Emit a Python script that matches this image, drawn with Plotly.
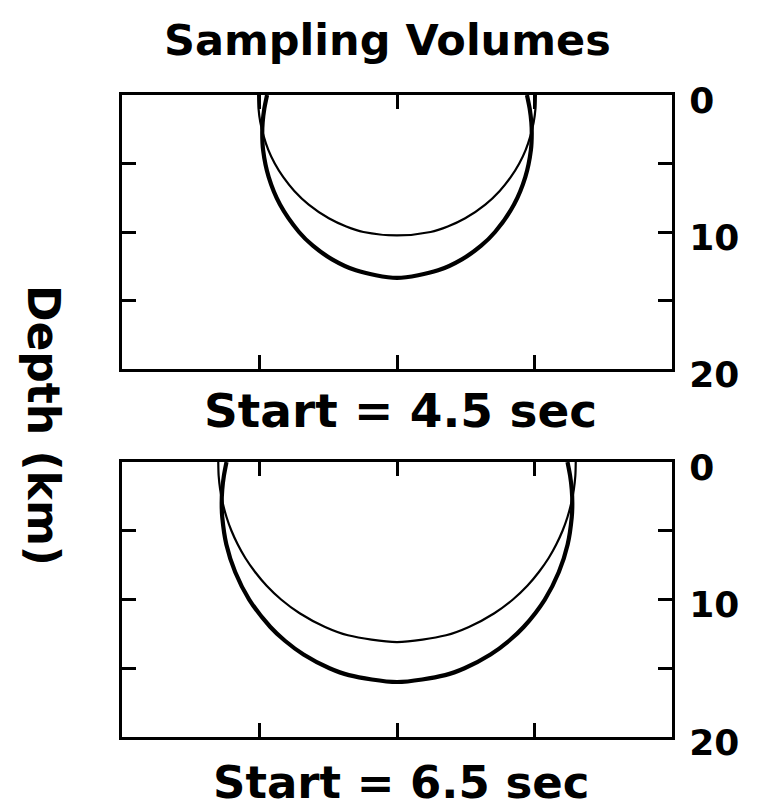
import plotly.graph_objects as go

# ---- data (x in km from centre, depth in km) ----
panel_labels = ["Start = 4.5 sec", "Start = 6.5 sec"]
depth_tickvals = [0, 5, 10, 15, 20]
depth_ticktext = ["0", "", "10", "", "20"]
x_tickvals = [-10, 0, 10]

# top panel, thin curve
top_thin_x = [-10.1, -10.07, -9.94, -9.70, -9.36, -8.89, -8.27, -7.47, -6.42, -4.96, -3.69, -2.44, 0.0,
              2.44, 3.69, 4.96, 6.42, 7.47, 8.27, 8.89, 9.36, 9.70, 9.94, 10.07, 10.1]
top_thin_d = [0, 1, 2, 3, 4, 5, 6, 7, 8, 9, 9.6, 10.0, 10.25,
              10.0, 9.6, 9, 8, 7, 6, 5, 4, 3, 2, 1, 0]
# top panel, thick curve
top_thick_x = [-9.45, -9.65, -9.77, -9.80, -9.74, -9.33, -8.51, -7.13, -6.12, -4.72, -2.99, 0.0,
               2.99, 4.72, 6.12, 7.13, 8.51, 9.33, 9.74, 9.80, 9.77, 9.65, 9.45]
top_thick_d = [0, 1, 2, 2.8, 4, 6, 8, 10, 11, 12, 12.8, 13.35,
               12.8, 12, 11, 10, 8, 6, 4, 2.8, 2, 1, 0]
# bottom panel, thin curve
bot_thin_x = [-13.0, -12.97, -12.86, -12.67, -12.40, -12.04, -11.58, -11.02, -10.32, -9.48, -8.43, -7.08,
              -5.23, -3.57, 0.0, 3.57, 5.23, 7.08, 8.43, 9.48, 10.32, 11.02, 11.58, 12.04, 12.40,
              12.67, 12.86, 12.97, 13.0]
bot_thin_d = [0, 1, 2, 3, 4, 5, 6, 7, 8, 9, 10, 11, 12, 12.6, 13.1,
              12.6, 12, 11, 10, 9, 8, 7, 6, 5, 4, 3, 2, 1, 0]
# bottom panel, thick curve
bot_thick_x = [-12.4, -12.59, -12.71, -12.75, -12.71, -12.41, -11.77, -10.75, -9.21, -8.15, -6.80, -4.91,
               -3.50, 0.0, 3.50, 4.91, 6.80, 8.15, 9.21, 10.75, 11.77, 12.41, 12.71, 12.75, 12.71,
               12.59, 12.4]
bot_thick_d = [0, 1, 2, 3, 4, 6, 8, 10, 12, 13, 14, 15, 15.5, 16.0,
               15.5, 15, 14, 13, 12, 10, 8, 6, 4, 3, 2, 1, 0]

FONT = "DejaVu Sans"
fig = go.Figure()

def add_curve(x, d, width, axis):
    fig.add_trace(go.Scatter(x=x, y=d, mode="lines",
                             line=dict(color="black", width=width, shape="spline", smoothing=0.8),
                             xaxis="x" if axis == 1 else "x2",
                             yaxis="y" if axis == 1 else "y2",
                             showlegend=False, hoverinfo="skip"))

add_curve(top_thin_x, top_thin_d, 2.2, 1)
add_curve(top_thick_x, top_thick_d, 4.2, 1)
add_curve(bot_thin_x, bot_thin_d, 2.2, 2)
add_curve(bot_thick_x, bot_thick_d, 4.2, 2)

xax = dict(range=[-20, 20], tickvals=x_tickvals, ticks="inside", ticklen=14, tickwidth=3,
           tickcolor="black", showticklabels=False, showgrid=False, zeroline=False,
           showline=True, linecolor="black", linewidth=3, mirror="ticks")
yax = dict(range=[20, 0], tickvals=depth_tickvals, ticktext=depth_ticktext, side="right",
           ticks="inside", ticklen=14, tickwidth=3, tickcolor="black",
           tickfont=dict(family=FONT, size=36, color="black", weight="bold"),
           ticklabelstandoff=7, ticklabelshift=-5, showgrid=False, zeroline=False,
           showline=True, linecolor="black", linewidth=3, mirror="ticks")

fig.update_layout(
    width=761, height=809,
    margin=dict(l=122, r=89, t=95, b=72),
    paper_bgcolor="white", plot_bgcolor="white",
    font=dict(family=FONT, color="black"),
    xaxis=dict(xax, domain=[0, 1], anchor="y"),
    yaxis=dict(yax, domain=[0.5732, 1.0], anchor="x"),
    xaxis2=dict(xax, domain=[0, 1], anchor="y2"),
    yaxis2=dict(yax, domain=[0.0, 0.4283], anchor="x2"),
    annotations=[
        dict(text="Sampling Volumes", x=0.482, y=1.0857, xref="paper", yref="paper",
             showarrow=False, xanchor="center", yanchor="middle",
             font=dict(family=FONT, size=43, weight="bold")),
        dict(text=panel_labels[0], x=0.507, y=0.509, xref="paper", yref="paper",
             showarrow=False, xanchor="center", yanchor="middle",
             font=dict(family=FONT, size=47, weight="bold")),
        dict(text=panel_labels[1], x=0.507, y=-0.071, xref="paper", yref="paper",
             showarrow=False, xanchor="center", yanchor="middle",
             font=dict(family=FONT, size=45, weight="bold")),
        dict(text="Depth (km)", x=-0.1436, y=0.486, xref="paper", yref="paper",
             showarrow=False, xanchor="center", yanchor="middle", textangle=90,
             font=dict(family=FONT, size=44, weight="bold")),
    ],
)

fig.write_html("out.html")
